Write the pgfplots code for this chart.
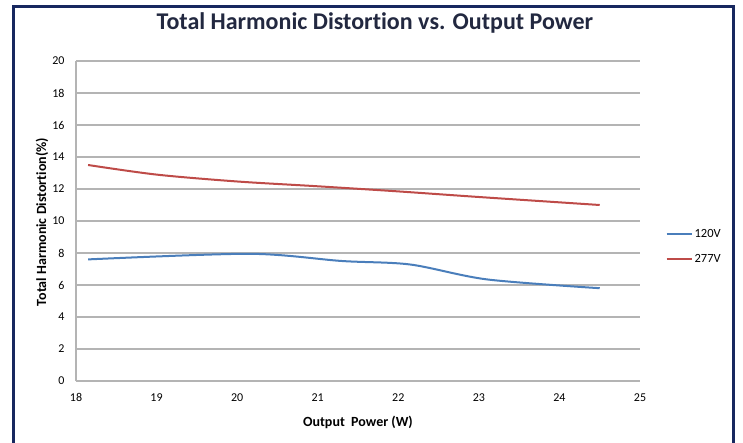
\documentclass[border=0pt]{standalone}
\usepackage{fontspec}
\setmainfont{Carlito}[Ligatures=NoCommon]
\usepackage{pgfplots}
\pgfplotsset{compat=1.18}
\definecolor{frame}{HTML}{17285F}
\definecolor{titlecol}{HTML}{222840}
\definecolor{v120}{HTML}{4A7EBB}
\definecolor{v277}{HTML}{BE4B48}
\definecolor{gridc}{HTML}{B4B4B4}
\begin{document}
\begin{tikzpicture}
\clip (-76pt,-61pt) rectangle (667pt,381pt);
\path[use as bounding box] (-76pt,-61pt) rectangle (667pt,381pt);
\draw[frame, line width=3pt] (-62.5pt,-90pt) rectangle (657.5pt,374.5pt);
\begin{axis}[
  at={(0pt,0pt)}, anchor=south west,
  scale only axis, width=564pt, height=320pt,
  xmin=18, xmax=25, ymin=0, ymax=20,
  xtick={18,...,25}, ytick={0,2,...,20},
  major tick length=0pt,
  axis x line*=bottom, axis y line*=left,
  axis line style={gridc, line width=1.2pt, -},
  ymajorgrids, grid style={gridc, line width=1.2pt},
  /pgf/number format/assume math mode=true,
  tick label style={font=\fontsize{12}{14}\selectfont},
  yticklabel style={anchor=east, xshift=-8pt},
  xticklabel style={anchor=north, yshift=-9pt},
  title={Total Harmonic Distortion vs. Output Power},
  title style={at={(0.530,1)}, anchor=center, yshift=32pt,
    font=\bfseries\fontsize{24}{28}\selectfont, text=titlecol},
  xlabel={Output\ \ Power (W)},
  xlabel style={at={(axis description cs:0.5,0)}, anchor=center, yshift=-41pt,
    font=\bfseries\fontsize{14}{16}\selectfont},
  ylabel={Total Harmonic Distortion(\%)},
  ylabel style={at={(axis description cs:-0.0603,0.497)}, anchor=center,
    font=\bfseries\fontsize{14}{16}\selectfont},
  legend style={draw=none, fill=none, at={(1.045,0.42)}, anchor=west,
    font=\fontsize{12.5}{14}\selectfont, row sep=11pt, inner sep=0pt},
  legend cell align=left,
  legend image code/.code={\draw[#1] (0pt,0pt) -- (25pt,0pt);},
]
\addplot[v120, line width=2pt, smooth, tension=0.5] coordinates {
  (18.15,7.6) (20.15,7.95) (21.3,7.5) (22.15,7.28) (23.1,6.35) (24.5,5.8)
};
\addlegendentry{120V}
\addplot[v277, line width=2pt, smooth, tension=0.5] coordinates {
  (18.15,13.5) (19,12.9) (20,12.47) (21,12.17) (22,11.85) (23,11.5) (24.5,11.0)
};
\addlegendentry{277V}
\end{axis}
\end{tikzpicture}
\end{document}
